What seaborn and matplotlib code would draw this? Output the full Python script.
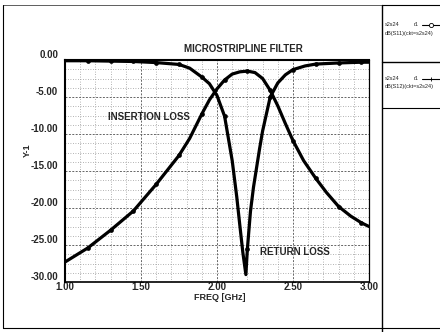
import matplotlib
matplotlib.use("Agg")
import numpy as np
import pandas as pd
import matplotlib.pyplot as plt
import seaborn as sns
from matplotlib.lines import Line2D
from matplotlib.ticker import MultipleLocator, FormatStrFormatter

# ---- data ----
FREQ_S11 = [1.00, 1.15, 1.30, 1.45, 1.60, 1.75, 1.82, 1.90, 1.95, 2.00, 2.05, 2.10,
            2.13, 2.15, 2.17, 2.19, 2.20, 2.22, 2.24, 2.26, 2.28, 2.30, 2.35, 2.40,
            2.45, 2.50, 2.58, 2.65, 2.80, 2.95, 3.00]
S11_DB = [-0.1, -0.1, -0.15, -0.2, -0.35, -0.6, -1.1, -2.3, -3.2, -4.8, -7.6, -13.6,
          -18.5, -22.3, -26.0, -29.0, -25.5, -20.5, -17.2, -14.6, -12.0, -9.6, -5.0, -3.1,
          -2.0, -1.3, -0.8, -0.55, -0.4, -0.3, -0.3]

FREQ_S12 = [1.00, 1.15, 1.30, 1.45, 1.60, 1.75, 1.82, 1.90, 1.95, 2.00, 2.05, 2.10,
            2.15, 2.20, 2.25, 2.30, 2.35, 2.40, 2.45, 2.50, 2.57, 2.65, 2.72, 2.80,
            2.88, 2.95, 3.00]
S12_DB = [-27.3, -25.4, -23.0, -20.4, -16.8, -12.9, -10.6, -7.3, -5.4, -3.9, -2.7, -1.9,
          -1.6, -1.5, -1.7, -2.5, -4.1, -6.2, -8.6, -10.9, -13.6, -16.0, -17.9, -19.8,
          -21.1, -22.0, -22.5]

MARK_FREQ = [1.15, 1.30, 1.45, 1.60, 1.75, 1.90, 2.05, 2.20, 2.35, 2.50, 2.65, 2.80, 2.95]

X_TICKS = [1.0, 1.5, 2.0, 2.5, 3.0]
Y_TICKS = [0, -5, -10, -15, -20, -25, -30]

TITLE = "MICROSTRIPLINE FILTER"
X_LABEL = "FREQ [GHz]"
Y_LABEL = "Y-1"
LABEL_S12 = "INSERTION LOSS"
LABEL_S11 = "RETURN LOSS"
LEG_NAME = "s2s24"
LEG_R = "r1"
LEG_S11 = "dB(S11)(ckt=s2s24)"
LEG_S12 = "dB(S12)(ckt=s2s24)"

# ---- style ----
sns.set_theme(style="white")
plt.rcParams['font.family'] = ['Liberation Sans', 'DejaVu Sans']

W, H = 440, 332
fig = plt.figure(figsize=(W / 100, H / 100), dpi=100)
fig.patch.set_facecolor("white")

def fx(px):
    return px / W

def fy(py):
    return 1 - py / H

ax = fig.add_axes([fx(65), fy(282), (369 - 65) / W, (282 - 60) / H])
ax.set_facecolor("white")

def mark_idx(freqs):
    return [i for i, f in enumerate(freqs) if any(abs(f - m) < 1e-9 for m in MARK_FREQ)]

df11 = pd.DataFrame({"freq": FREQ_S11, "db": S11_DB})
df12 = pd.DataFrame({"freq": FREQ_S12, "db": S12_DB})

sns.lineplot(data=df12, x="freq", y="db", ax=ax, color="black", lw=2.3,
             marker="o", markersize=3.4, markeredgewidth=0, markevery=mark_idx(FREQ_S12),
             zorder=4, sort=False)
sns.lineplot(data=df11, x="freq", y="db", ax=ax, color="black", lw=2.3,
             marker="o", markersize=3.4, markeredgewidth=0, markevery=mark_idx(FREQ_S11),
             zorder=4, sort=False)

ax.set_xlim(1.0, 3.0)
ax.set_ylim(-30, 0)
ax.set_xticks(X_TICKS)
ax.set_yticks(Y_TICKS)
ax.xaxis.set_major_formatter(FormatStrFormatter("%.2f"))
ax.set_yticklabels(["%.2f" % abs(v) if v == 0 else "%.2f" % v for v in Y_TICKS])
ax.xaxis.set_minor_locator(MultipleLocator(0.1))
ax.yaxis.set_minor_locator(MultipleLocator(1.25))

ax.grid(which="minor", color="#9a9a9a", ls=(0, (1, 2)), lw=0.6)
ax.grid(which="major", color="#666666", ls=(0, (2, 1.5)), lw=0.7)
ax.set_axisbelow(True)

ax.tick_params(axis="both", which="minor", length=0)
ax.tick_params(axis="y", which="major", length=4, width=1.0, pad=1, labelsize=7,
               direction="out", color="black")
ax.tick_params(axis="x", which="major", length=3, width=0.8, pad=0, labelsize=7,
               direction="in", color="black")
for lab in ax.get_yticklabels():
    lab.set_fontweight("bold")
    lab.set_verticalalignment("bottom")
for lab in ax.get_xticklabels():
    lab.set_fontweight("bold")

for side, lw in (("left", 1.5), ("top", 1.5), ("bottom", 1.2), ("right", 0.9)):
    ax.spines[side].set_visible(True)
    ax.spines[side].set_color("black")
    ax.spines[side].set_linewidth(lw)

ax.set_xlabel("")
ax.set_ylabel("")
fig.text(fx(220), fy(297), X_LABEL, ha="center", va="center", fontsize=6.5, fontweight="bold")
fig.text(fx(27), fy(150), Y_LABEL, ha="center", va="center", rotation=90,
         fontsize=6.5, fontweight="bold")
fig.text(fx(243), fy(49), TITLE, ha="center", va="center", fontsize=7, fontweight="bold")

ax.text(1.28, -7.7, LABEL_S12, ha="left", va="center", fontsize=7, fontweight="bold", zorder=5)
ax.text(2.28, -26.0, LABEL_S11, ha="left", va="center", fontsize=7, fontweight="bold", zorder=5)

# ---- outer frame and legend panel ----
def hline(y, x0, x1, lw=0.8, ls="-", color="black"):
    fig.add_artist(Line2D([fx(x0), fx(x1)], [fy(y), fy(y)], transform=fig.transFigure,
                          color=color, lw=lw, ls=ls))

def vline(x, y0, y1, lw=0.8, ls="-", color="black"):
    fig.add_artist(Line2D([fx(x), fx(x)], [fy(y0), fy(y1)], transform=fig.transFigure,
                          color=color, lw=lw, ls=ls))

hline(5, 3, 382, lw=0.6, color="#444444")
hline(5, 382, 440, lw=0.8)
vline(3, 5, 328, lw=0.8)
hline(328, 3, 440, lw=0.8)
vline(382, 5, 332, lw=1.0)
hline(62, 382, 440, lw=1.0)
hline(108, 382, 440, lw=0.8)

for ytop, lab, mk in ((25, LEG_S11, "o"), (79, LEG_S12, "|")):
    fig.text(fx(385), fy(ytop), LEG_NAME, ha="left", va="center", fontsize=4)
    fig.text(fx(414), fy(ytop), LEG_R, ha="left", va="center", fontsize=4)
    fig.add_artist(Line2D([fx(422), fx(440)], [fy(ytop), fy(ytop)],
                          transform=fig.transFigure, color="black", lw=0.8))
    fig.add_artist(Line2D([fx(431)], [fy(ytop)], transform=fig.transFigure,
                          color="black", marker=mk, markersize=3, markerfacecolor="white",
                          markeredgewidth=0.6, lw=0))
    fig.text(fx(385), fy(ytop + 8), lab, ha="left", va="center", fontsize=4)

fig.savefig("out.png", dpi=100, facecolor="white")
